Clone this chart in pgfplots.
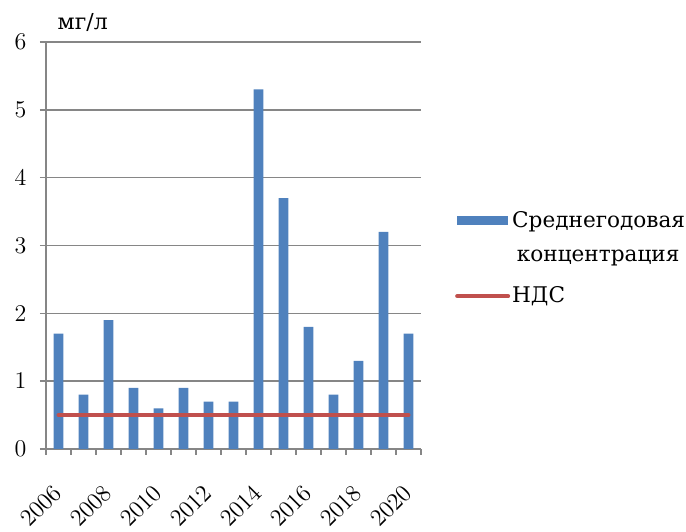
\documentclass[border=0pt]{standalone}
\usepackage{fontspec}
\setmainfont{DejaVu Serif}
\usepackage{pgfplots}
\pgfplotsset{compat=1.18}
\definecolor{barblue}{HTML}{4F81BD}
\definecolor{ndsred}{HTML}{C0504D}
\definecolor{axgray}{HTML}{868686}
\begin{document}
\fontsize{11}{14}\selectfont
\begin{tikzpicture}
\begin{axis}[
  name=ax,
  scale only axis,
  width=187.5pt, height=203.5pt,
  xmin=-0.5, xmax=14.5,
  ymin=0, ymax=6,
  ytick={0,1,...,6},
  xtick={0,2,...,14},
  xticklabels={$2006$,$2008$,$2010$,$2012$,$2014$,$2016$,$2018$,$2020$},
  minor xtick={-0.5,0.5,...,14.5},
  major x tick style={draw=none},
  minor x tick style={draw=axgray, line width=0.7pt},
  minor tick length=3pt,
  major tick length=3pt,
  tick align=outside,
  ytick style={draw=axgray, line width=0.7pt},
  ymajorgrids,
  grid style={draw=axgray, line width=0.7pt},
  axis x line*=bottom,
  axis y line*=left,
  axis line style={draw=axgray, line width=0.7pt, -},
  ticklabel style={font=\fontsize{12.5}{14}\selectfont},
  yticklabel style={xshift=-3pt},
  xticklabel style={xshift=-0.5pt, yshift=-17pt, rotate=45, anchor=east, inner sep=0pt},
  clip=false,
  legend style={draw=none, fill=none, at={(1.074,0.605)}, anchor=north west,
    font=\fontsize{10.8}{17}\selectfont, row sep=24pt,
    cells={anchor=west}, nodes={inner xsep=1pt}},
  legend cell align=left,
]
\addplot[ybar, bar width=4.8pt, fill=barblue, draw=none,
  legend image code/.code={\fill[barblue] (0pt,-2.25pt) rectangle (25.5pt,2.25pt);}] coordinates {
 (0,1.7) (1,0.8) (2,1.9) (3,0.9) (4,0.6) (5,0.9) (6,0.7) (7,0.7)
 (8,5.3) (9,3.7) (10,1.8) (11,0.8) (12,1.3) (13,3.2) (14,1.7)};
\addlegendentry{\parbox[t]{86pt}{\centering Среднегодовая\\концентрация}}
\addplot[ndsred, line width=2pt, line cap=round,
  legend image code/.code={\draw[ndsred, line width=2pt, line cap=round] (0pt,0pt) -- (25.5pt,0pt);}] coordinates {(0,0.5) (14,0.5)};
\addlegendentry{НДС}
\node[anchor=base west, font=\fontsize{11}{14}\selectfont] at (rel axis cs:0,1) [xshift=2pt, yshift=6pt] {мг/л};
\end{axis}
\pgfresetboundingbox
\path[use as bounding box] ([xshift=-23pt,yshift=-41.5pt]ax.south west) rectangle ([xshift=132.5pt,yshift=21pt]ax.north east);
\end{tikzpicture}
\end{document}
